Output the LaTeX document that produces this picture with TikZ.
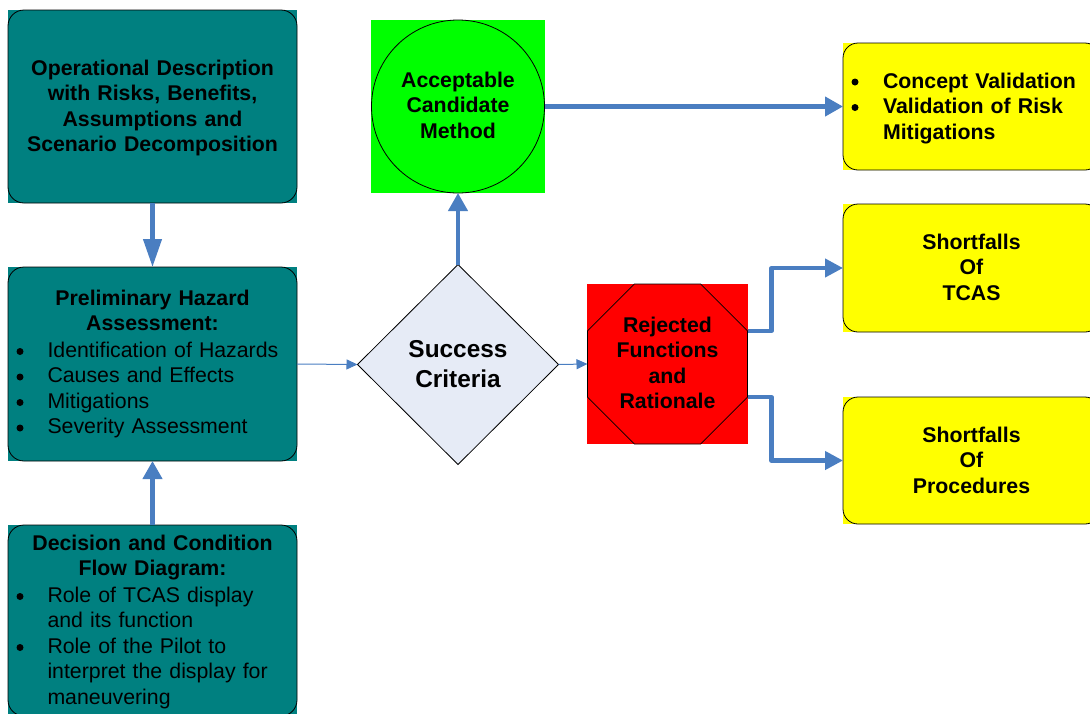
\documentclass[tikz,border=0pt]{standalone}
\usepackage{fontspec}
\setmainfont{Liberation Sans}
\usetikzlibrary{shapes.geometric,arrows.meta,backgrounds}
\definecolor{tealfill}{HTML}{008080}
\definecolor{greenfill}{HTML}{00FF00}
\definecolor{yellowfill}{HTML}{FFFF00}
\definecolor{redfill}{HTML}{FF0000}
\definecolor{diafill}{HTML}{E6EBF6}
\definecolor{arrowblue}{RGB}{74,126,193}
\newcommand{\bul}{\leavevmode\llap{\tikz[baseline=0pt]{\fill[black] (0pt,5.5pt) circle (3.5pt);}\hspace{24pt}}}
\newcommand{\bulb}{\leavevmode\llap{\tikz[baseline=0pt]{\fill[black] (0pt,6pt) circle (3.5pt);}\hspace{24.5pt}}}
\begin{document}
\begin{tikzpicture}[x=1pt,y=-1pt,
  every node/.style={inner sep=0pt,outer sep=0pt},
  roundbox/.style={rectangle,draw=black,line width=0.8pt,rounded corners=16pt},
  tealbox/.style={roundbox,fill=tealfill},
  yellowbox/.style={roundbox,fill=yellowfill,rounded corners=15pt},
  ttl/.style={font=\fontsize{21.3}{25.5}\selectfont\bfseries,align=center,text width=285pt,anchor=base},
  lst/.style={font=\fontsize{21.3}{25.5}\selectfont,align=left,text width=245pt,anchor=base west},
  lstb/.style={font=\fontsize{21.3}{25.5}\selectfont\bfseries,align=left,text width=205pt,anchor=base west},
  thickarrow/.style={draw=arrowblue,line width=4.2pt,-{Triangle[width=19pt,length=18pt]}},
  longarrow/.style={draw=arrowblue,line width=4.2pt,-{Triangle[width=18pt,length=28pt]}},
  thinarrow/.style={draw=arrowblue,line width=1pt,-{Triangle[width=10pt,length=11pt]}},
  elbowarrow/.style={draw=arrowblue,line width=4.2pt,line join=round,-{Triangle[width=18pt,length=18pt]}}
]
\useasboundingbox (0,0) rectangle (1090,713);
\clip (0,0) rectangle (1090,713);

% boxes
\node[tealbox,minimum width=289pt,minimum height=193pt] (op) at (152.5,106.5) {};
\node[tealbox,minimum width=289pt,minimum height=194pt] (pha) at (152.5,364) {};
\node[tealbox,minimum width=289pt,minimum height=191pt] (dcf) at (152.5,620.5) {};
\node[circle,draw=black,line width=0.8pt,fill=greenfill,minimum size=173pt] (acm) at (458,106.5) {};
\node[diamond,draw=black,line width=0.8pt,fill=diafill,minimum width=201pt,minimum height=200pt,aspect=1] (sc) at (458,364.5) {};
\node[regular polygon,regular polygon sides=8,draw=black,line width=0.8pt,fill=redfill,minimum size=173.2pt] (rej) at (667.5,364) {};
\node[yellowbox,minimum width=257pt,minimum height=127pt] (cv) at (971.5,106.5) {};
\node[yellowbox,minimum width=257pt,minimum height=128pt] (st) at (971.5,268) {};
\node[yellowbox,minimum width=257pt,minimum height=127pt] (sp) at (971.5,460.5) {};

% square backgrounds
\begin{scope}[on background layer]
  \fill[tealfill] (op.south west) rectangle (op.north east);
  \fill[tealfill] (pha.south west) rectangle (pha.north east);
  \fill[tealfill] (dcf.south west) rectangle (dcf.north east);
  \fill[greenfill] (371,20) rectangle (545,193);
  \fill[redfill] (587,284) rectangle (748,444);
  \fill[yellowfill] (cv.south west) rectangle (cv.north east);
  \fill[yellowfill] (st.south west) rectangle (st.north east);
  \fill[yellowfill] (sp.south west) rectangle (sp.north east);
\end{scope}

% texts
\node[ttl] (optxt) at (152.5,75) {Operational Description\\with Risks, Benefits,\\Assumptions and\\Scenario Decomposition};
\node[ttl] (phatxt) at (152.5,305) {Preliminary Hazard\\Assessment:};
\node[lst] (phalst) at (47.5,357) {\bul Identification of Hazards\\\bul Causes and Effects\\\bul Mitigations\\\bul Severity Assessment};
\node[ttl] (dcftxt) at (152.5,550) {Decision and Condition\\Flow Diagram:};
\node[lst] (dcflst) at (47.5,602) {\bul Role of TCAS display\\and its function\\\bul Role of the Pilot to\\interpret the display for\\maneuvering};
\node[ttl,text width=170pt] (acmtxt) at (458,87) {Acceptable\\Candidate\\Method};
\node[ttl,text width=150pt,font=\fontsize{24.4}{30}\selectfont\bfseries] (sctxt) at (458,357) {Success\\Criteria};
\node[ttl,text width=150pt] (rejtxt) at (667.5,332) {Rejected\\Functions\\and\\Rationale};
\node[lstb] (cvlst) at (883,88) {\bulb Concept Validation\\\bulb Validation of Risk\\Mitigations};
\node[ttl,text width=240pt] (sttxt) at (971.5,249) {Shortfalls\\Of\\TCAS};
\node[ttl,text width=240pt] (sptxt) at (971.5,442) {Shortfalls\\Of\\Procedures};

% connectors
\draw[longarrow] (op.south) -- (pha.north);
\draw[thickarrow] (dcf.north) -- (pha.south);
\draw[thinarrow] (pha.east) -- (sc.west);
\draw[thickarrow] (sc.north) -- (acm.south);
\draw[thickarrow] (acm.east) -- (cv.west);
\draw[thinarrow] (sc.east) -- (rej.west);
\draw[elbowarrow] ([yshift=33pt]rej.east) -- ++(24,0) |- (st.west);
\draw[elbowarrow] ([yshift=-33pt]rej.east) -- ++(24,0) |- (sp.west);
\end{tikzpicture}
\end{document}
